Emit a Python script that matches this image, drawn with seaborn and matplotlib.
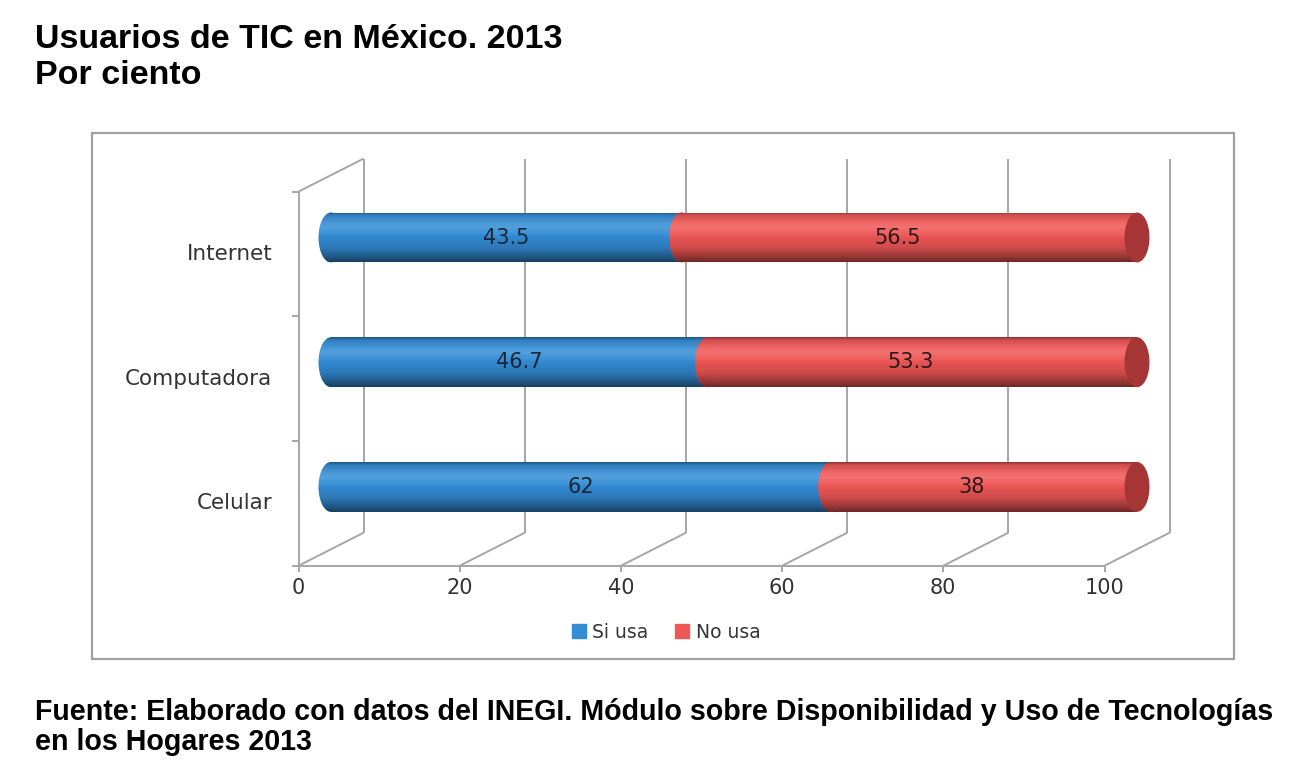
import numpy as np
import pandas as pd
import matplotlib
matplotlib.use("Agg")
import matplotlib.pyplot as plt
import seaborn as sns
from matplotlib.patches import Ellipse, Rectangle, Patch

# Datos (por ciento)
categorias = ["Internet", "Computadora", "Celular"]
si_usa = [43.5, 46.7, 62]
no_usa = [56.5, 53.3, 38]
ticks_x = [0, 20, 40, 60, 80, 100]

df = pd.DataFrame({"categoria": categorias, "si": si_usa, "no": no_usa})
df["total"] = df["si"] + df["no"]

W, H = 1310, 773
AZUL = "#338cd4"
ROJO = "#ef5656"
TAPA = "#a63636"
GRIS = "#a6a6a6"
TXT = "#333333"

sns.set_style("white")
plt.rcParams["font.family"] = ["DejaVu Sans"]

fig = plt.figure(figsize=(W / 100, H / 100), dpi=100)


def caja(x0, y0, x1, y1):
    return [x0 / W, 1 - y1 / H, (x1 - x0) / W, (y1 - y0) / H]


# mapping of the bar plane in pixels
X0, SX = 331, 8.06
Y0, SY = 237.5, 124.7
ax_px = (240, 140, 1245, 600)
ax = fig.add_axes(caja(*ax_px))

# depth offsets (front / back planes) in data units
dx, dy = 32.5 / SX, 16.5 / SY
alto = 0.40

sns.barplot(data=df, y="categoria", x="total", orient="h", color=ROJO,
            saturation=1, width=alto, errorbar=None, linewidth=0, ax=ax)
rojos = list(ax.patches)
sns.barplot(data=df, y="categoria", x="si", orient="h", color=AZUL,
            saturation=1, width=alto, errorbar=None, linewidth=0, ax=ax)
azules = [p for p in ax.patches if p not in rojos]

# cylinder shading profile (top -> bottom)
t = np.linspace(0, 1, 200)
oscuro = np.interp(t, [0, 0.06, 0.22, 0.45, 0.72, 0.9, 1],
                   [0.40, 0.12, 0.0, 0.0, 0.14, 0.38, 0.55])
claro = np.interp(t, [0, 0.12, 0.3, 0.5, 1], [0, 0.05, 0.16, 0.0, 0])
img_osc = np.zeros((200, 1, 4))
img_osc[:, 0, 3] = oscuro
img_cla = np.ones((200, 1, 4))
img_cla[:, 0, 3] = claro


def sombrear(patch, y, z):
    ext = (-3, 103, y + alto / 2, y - alto / 2)
    for img in (img_cla, img_osc):
        im = ax.imshow(img, extent=ext, aspect="auto", zorder=z + 0.05,
                       interpolation="bilinear")
        im.set_clip_path(patch)


for i, cat in enumerate(categorias):
    # left rounded end
    e_izq = Ellipse((0, i), 3.1, alto, color=AZUL, lw=0, zorder=1.0)
    ax.add_patch(e_izq)
    sombrear(e_izq, i, 1.0)
    rojos[i].set_zorder(1.1)
    sombrear(rojos[i], i, 1.1)
    azules[i].set_zorder(1.2)
    sombrear(azules[i], i, 1.2)
    e_med = Ellipse((si_usa[i], i), 3.1, alto, color=ROJO, lw=0, zorder=1.3)
    ax.add_patch(e_med)
    sombrear(e_med, i, 1.3)
    tot = si_usa[i] + no_usa[i]
    ax.add_patch(Ellipse((tot, i), 3.1, alto, color=TAPA, lw=0, zorder=1.4))

    ax.text(si_usa[i] / 2, i, f"{si_usa[i]:g}", ha="center", va="center",
            fontsize=15, color="#1a2536", zorder=3)
    ax.text(si_usa[i] + no_usa[i] / 2 - 1.5, i, f"{no_usa[i]:g}", ha="center",
            va="center", fontsize=15, color="#2a1818", zorder=3)
    ax.annotate(cat, (-dx, i + dy), xytext=(-26, 0), textcoords="offset pixels",
                ha="right", va="center", fontsize=15.5, color=TXT)

# 3D frame: back wall grid, floor, left wall
kw = dict(color=GRIS, lw=1.4, zorder=0.5, solid_capstyle="butt")
y_top, y_bot = -0.5, 2.5
for v in ticks_x:
    ax.plot([v + dx, v + dx], [y_top - dy, y_bot - dy], **kw)
    ax.plot([v - dx, v + dx], [y_bot + dy, y_bot - dy], **kw)
    ax.plot([v - dx, v - dx], [y_bot + dy, y_bot + dy + 6 / SY], **kw)
    ax.annotate(str(v), (v - dx, y_bot + dy), xytext=(0, -22),
                textcoords="offset pixels", ha="center", va="center",
                fontsize=15, color=TXT)
ax.plot([-dx, ticks_x[-1] - dx], [y_bot + dy, y_bot + dy], **kw)
ax.plot([-dx, -dx], [y_top + dy, y_bot + dy], **kw)
ax.plot([-dx, dx], [y_top + dy, y_top - dy], **kw)
for b in np.arange(y_top, y_bot + 1):
    ax.plot([-dx - 7 / SX, -dx], [b + dy, b + dy], **kw)

ax.set_xlim((ax_px[0] - X0) / SX, (ax_px[2] - X0) / SX)
ax.set_ylim((ax_px[3] - Y0) / SY, (ax_px[1] - Y0) / SY)
ax.axis("off")

# chart border
fig.patches.append(Rectangle((92 / W, 1 - 659 / H), (1234 - 92) / W,
                             (659 - 133) / H, transform=fig.transFigure,
                             fill=False, edgecolor="#a0a0a0", lw=1.6))

fig.legend(handles=[Patch(color=AZUL, label="Si usa"),
                    Patch(color=ROJO, label="No usa")],
           loc="center", bbox_to_anchor=(666 / W, 1 - 632 / H), ncol=2,
           frameon=False, fontsize=13.5, handlelength=0.75, handleheight=0.7,
           handletextpad=0.35, columnspacing=1.4, labelcolor=TXT)

tit = dict(fontfamily="Liberation Sans", fontweight="bold", color="black",
           ha="left", va="baseline")
fig.text(35 / W, 1 - 48 / H, "Usuarios de TIC en México. 2013", fontsize=24.5, **tit)
fig.text(35 / W, 1 - 84 / H, "Por ciento", fontsize=24.5, **tit)
fig.text(35 / W, 1 - 720 / H,
         "Fuente: Elaborado con datos del INEGI. Módulo sobre Disponibilidad y Uso de Tecnologías",
         fontsize=20.6, **tit)
fig.text(35 / W, 1 - 750 / H, "en los Hogares 2013", fontsize=20.6, **tit)

fig.savefig("out.png", dpi=100)
